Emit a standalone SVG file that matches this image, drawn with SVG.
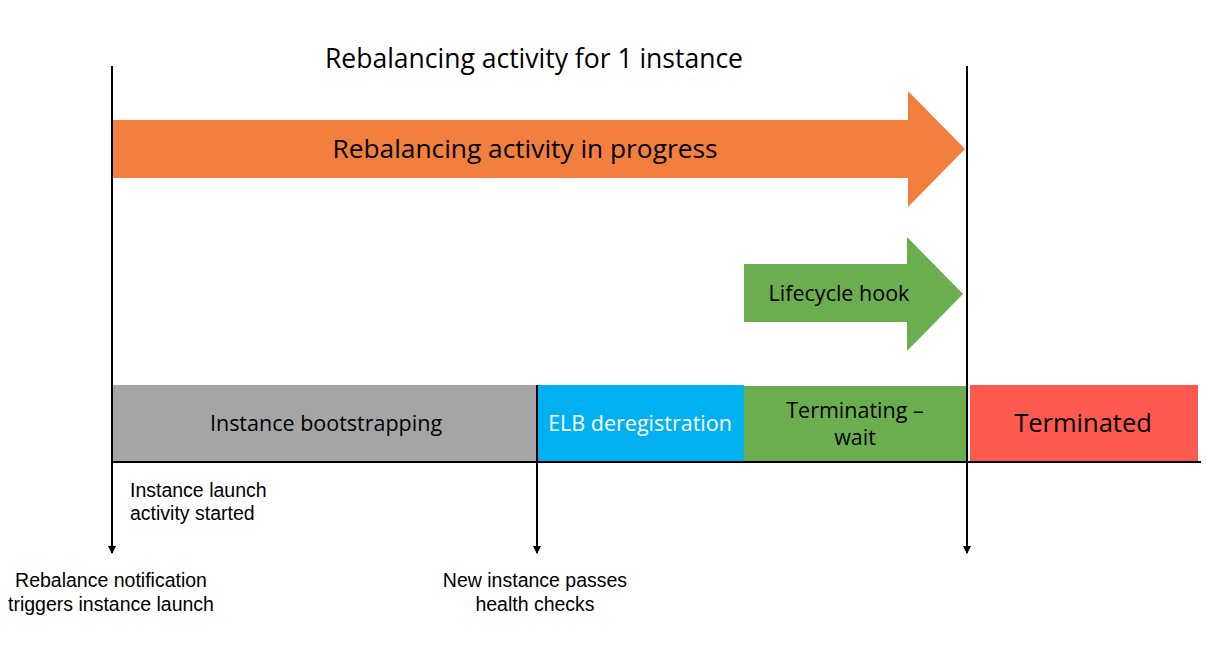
<svg xmlns="http://www.w3.org/2000/svg" width="1207" height="646" viewBox="0 0 1207 646">
<style>
text{font-family:"Open Sans","Noto Sans",sans-serif;fill:#000;}
.c{text-anchor:middle;}
.ln{stroke:#000;stroke-width:2;fill:none;}
.lbl{font-family:"Liberation Sans",Arial,sans-serif;font-size:19.5px;}
.bar{font-size:21.5px;}
</style>
<defs>
<marker id="ah" markerWidth="8" markerHeight="8" refX="7" refY="4" orient="auto" markerUnits="userSpaceOnUse" viewBox="0 0 8 8">
<path d="M0,0 L8,4 L0,8 Z" fill="#000"/>
</marker>
</defs>
<rect width="1207" height="646" fill="#fff"/>
<g id="title"><text class="c" x="534" y="68" font-size="26.5">Rebalancing activity for 1 instance</text></g>
<g id="progress-arrow">
<path d="M112,120 H908 V91 L965,149 L908,207 V178 H112 Z" fill="#F37F3F"/>
<text class="c" x="525" y="158" font-size="26.3">Rebalancing activity in progress</text>
</g>
<g id="lifecycle-hook">
<path d="M744,264 H907 V237 L963,294 L907,351 V322 H744 Z" fill="#6AAE4F"/>
<text class="c" x="839" y="301" font-size="21.5">Lifecycle hook</text>
</g>
<g id="bootstrapping">
<rect x="112" y="385" width="425" height="77" fill="#A5A5A5"/>
<text class="c bar" x="326" y="431">Instance bootstrapping</text>
</g>
<g id="elb">
<rect x="537" y="385" width="207" height="77" fill="#00B0F0"/>
<text class="c bar" x="640" y="431" style="fill:#fff">ELB deregistration</text>
</g>
<g id="terminating">
<rect x="744" y="386" width="222" height="76" fill="#6AAE4F"/>
<text class="c bar" x="855" y="418"><tspan x="855">Terminating –</tspan><tspan x="855" dy="27">wait</tspan></text>
</g>
<g id="terminated">
<rect x="970" y="385" width="228" height="77" fill="#FF5A4F"/>
<text class="c" x="1083" y="432" font-size="25.5">Terminated</text>
</g>
<g id="connectors">
<line class="ln" x1="112" y1="66" x2="112" y2="553" marker-end="url(#ah)"/>
<line class="ln" x1="537" y1="385" x2="537" y2="553" marker-end="url(#ah)"/>
<line class="ln" x1="967" y1="66" x2="967" y2="553" marker-end="url(#ah)"/>
<line class="ln" x1="112" y1="462" x2="1201" y2="462"/>
</g>
<g id="label-launch">
<text class="lbl" x="130" y="497"><tspan x="130">Instance launch</tspan><tspan x="130" dy="23">activity started</tspan></text>
</g>
<g id="label-notification">
<text class="c lbl" x="111" y="587"><tspan x="111">Rebalance notification</tspan><tspan x="111" dy="24">triggers instance launch</tspan></text>
</g>
<g id="label-health">
<text class="c lbl" x="535" y="587"><tspan x="535">New instance passes</tspan><tspan x="535" dy="24">health checks</tspan></text>
</g>
</svg>
